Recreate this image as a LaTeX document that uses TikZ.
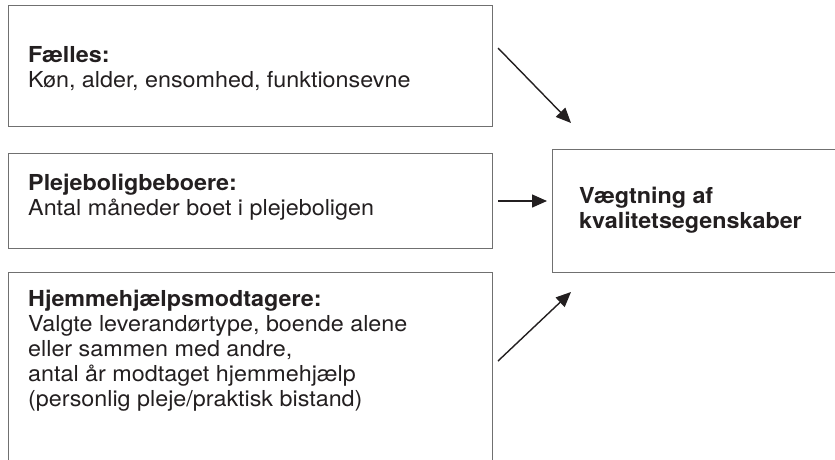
\documentclass[tikz,border=0pt]{standalone}
\usepackage{fontspec}
\setmainfont{TeX Gyre Heros}[FakeStretch=1.06]
\usetikzlibrary{arrows.meta}
\definecolor{txt}{HTML}{231F20}
\definecolor{frame}{HTML}{707070}
\begin{document}
\begin{tikzpicture}[x=1pt,y=-1pt,
  box/.style={draw=frame,line width=1.2pt,rectangle,inner sep=0pt,anchor=north west},
  lbl/.style={anchor=base west,inner sep=0pt,text=txt,font=\fontsize{22}{25}\selectfont,align=left},
  arr/.style={-{Triangle[length=15pt,width=13pt]},line width=1.4pt,draw=txt}]
\useasboundingbox (0,0) rectangle (835,459);
\fill[white] (0,0) rectangle (835,459);
% boxes
\node[box,minimum width=484pt,minimum height=121pt] (b1) at (8,5) {};
\node[box,minimum width=484pt,minimum height=95pt] (b2) at (8,153) {};
\node[box,minimum width=484pt,minimum height=210pt] (b3) at (8,272) {};
\node[box,minimum width=300pt,minimum height=123pt] (r) at (552,149) {};
% texts (anchored at the baseline of their last line)
\node[lbl] (t1) at (28,87) {\textbf{Fælles:}\\Køn, alder, ensomhed, funktionsevne};
\node[lbl] (t2) at (28,215) {\textbf{Plejeboligbeboere:}\\Antal måneder boet i plejeboligen};
\node[lbl] (t3) at (28,406) {\textbf{Hjemmehjælpsmodtagere:}\\Valgte leverandørtype, boende alene\\eller sammen med andre,\\antal år modtaget hjemmehjælp\\(personlig pleje/praktisk bistand)};
\node[lbl] (tr) at (579,228) {\textbf{Vægtning af}\\\textbf{kvalitetsegenskaber}};
% arrows
\coordinate (a1s) at (498,48);
\coordinate (a1e) at (571,123);
\coordinate (a2s) at (498,201);
\coordinate (a2e) at (547,201);
\coordinate (a3s) at (498,361);
\coordinate (a3e) at (571,292);
\draw[arr] (a1s) -- (a1e);
\draw[arr] (a2s) -- (a2e);
\draw[arr] (a3s) -- (a3e);
\end{tikzpicture}
\end{document}
